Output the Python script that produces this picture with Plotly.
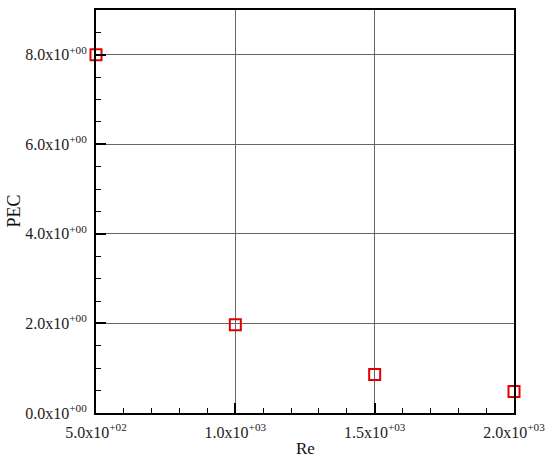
import plotly.graph_objects as go

# datos
re_vals = [500, 1000, 1500, 2000]
pec_vals = [8.0, 1.97, 0.86, 0.48]

x_ticks = [500, 1000, 1500, 2000]
x_labels = ["5.0x10<sup>+02</sup>", "1.0x10<sup>+03</sup>",
            "1.5x10<sup>+03</sup>", "2.0x10<sup>+03</sup>"]
y_ticks = [0, 2, 4, 6, 8]
y_labels = ["0.0x10<sup>+00</sup>", "2.0x10<sup>+00</sup>", "4.0x10<sup>+00</sup>",
            "6.0x10<sup>+00</sup>", "8.0x10<sup>+00</sup>"]

FONT = "Liberation Serif"

fig = go.Figure(go.Scatter(
    x=re_vals, y=pec_vals, mode="markers", showlegend=False,
    marker={"symbol": "square-open", "size": 11, "color": "#e00000",
            "line": {"width": 2, "color": "#e00000"}},
    cliponaxis=False,
))

axis_common = dict(
    showline=True, linecolor="black", linewidth=2, mirror=True,
    ticks="inside", ticklen=10, tickwidth=2, tickcolor="black",
    showgrid=True, gridcolor="#666666", gridwidth=1, zeroline=False,
    tickfont={"family": FONT, "size": 16, "color": "#222"},
    automargin=False, ticklabelstandoff=4,
)

fig.update_xaxes(
    range=[500, 2000], tickvals=x_ticks, ticktext=x_labels,
    minor={"dtick": 100, "ticks": "inside", "ticklen": 5, "tickwidth": 1,
           "tickcolor": "black", "showgrid": False},
    **axis_common,
)
fig.update_yaxes(
    range=[0, 9], tickvals=y_ticks, ticktext=y_labels,
    minor={"dtick": 0.5, "ticks": "inside", "ticklen": 5, "tickwidth": 1,
           "tickcolor": "black", "showgrid": False},
    **axis_common,
)

# títulos de eje como anotaciones para colocarlos igual que el original
fig.add_annotation(x=0.5, y=0, xref="paper", yref="paper", text="Re",
                   showarrow=False, yanchor="middle", yshift=-35,
                   font={"family": FONT, "size": 17, "color": "#111"})
fig.add_annotation(x=0, y=0.5, xref="paper", yref="paper", text="PEC",
                   showarrow=False, textangle=-90, xanchor="center", xshift=-83,
                   font={"family": FONT, "size": 18, "color": "#111"})

fig.update_layout(
    width=550, height=458,
    paper_bgcolor="white", plot_bgcolor="white",
    margin={"l": 96, "r": 36, "t": 10, "b": 45},
)

# sin el margen por defecto del <body>, la figura ocupa la ventana entera
fig.write_html("out.html", config={"displayModeBar": False},
               post_script="document.body.style.margin = '0';")
